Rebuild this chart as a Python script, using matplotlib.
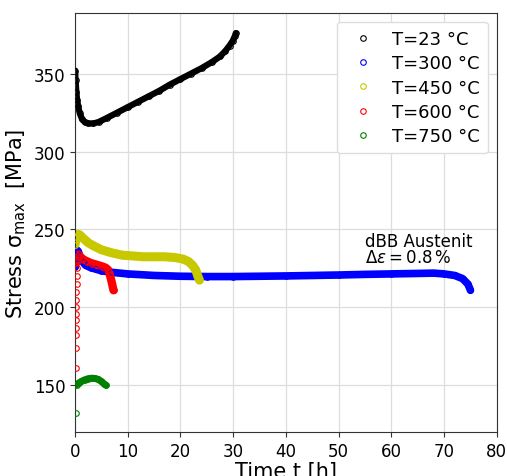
import matplotlib.pyplot as plt

# 23 °C
t23 = [0, 0.1, 0.25, 0.4, 0.6, 0.9, 1.3, 1.8, 2.5, 3.5, 4.5, 6, 8, 10, 12, 14,
       16, 18, 20, 22, 24, 26, 27.5, 28.5, 29.3, 29.9, 30.3, 30.5]
s23 = [352, 346, 338, 333, 329, 324.5, 321, 319, 318, 318, 319, 321.5, 325, 328.5,
       332, 335.5, 339, 343, 346.5, 350, 353.5, 357.5, 361, 364.5, 368, 371, 374, 376]

# 300 °C
t300 = [0, 0.1, 0.3, 0.6, 1, 1.5, 2, 3, 4, 5, 7, 10, 15, 20, 25, 30, 35, 40, 45,
        50, 55, 60, 65, 68, 70, 72, 73.5, 74.5, 75]
s300 = [226, 232, 237, 236, 232, 229, 227, 225.5, 224.5, 223.5, 222.5, 221.5, 220.5,
        220, 219.8, 219.8, 220, 220.2, 220.5, 220.8, 221.2, 221.5, 221.8, 222, 221.5,
        220.5, 218.5, 215, 211]

# 450 °C
t450 = [0, 0.2, 0.5, 0.9, 1.5, 2.5, 3.5, 5, 7, 9, 11, 13, 15, 17, 19, 20.5, 21.5,
        22.3, 22.9, 23.3, 23.6]
s450 = [240, 245, 247, 246.5, 244.5, 241.5, 239.5, 237, 235, 233.5, 233, 232.5,
        232.5, 232.5, 232, 231, 229.5, 227, 224, 220, 217.5]

# 600 °C (Anfahrpunkte + Verlauf)
t600_start = [0.1, 0.12, 0.14, 0.16, 0.18, 0.2, 0.22, 0.24, 0.27, 0.3, 0.33, 0.36]
s600_start = [161, 174, 182, 187, 192, 196, 200, 205, 210, 215, 220, 225]
t600 = [0.4, 0.5, 0.7, 1, 1.5, 2, 3, 4, 5, 5.8, 6.3, 6.6, 6.9, 7.1, 7.3]
s600 = [229, 233, 234, 232.5, 231, 230, 228.5, 227.5, 226.5, 225.5, 224, 221, 217,
        214, 211]

# 750 °C
t750_start = [0.1]
s750_start = [132]
t750 = [0, 0.3, 0.7, 1.2, 1.8, 2.5, 3.2, 3.8, 4.4, 5, 5.5, 5.9]
s750 = [150, 150.5, 151.5, 152.5, 153.5, 154.3, 154.6, 154.4, 153.8, 152.5, 151, 150]

labels = ['T=23 °C', 'T=300 °C', 'T=450 °C', 'T=600 °C', 'T=750 °C']
colors = ['black', 'blue', '#c8c800', 'red', 'green']

fig = plt.figure(figsize=(5.07, 4.77), dpi=100)
ax = fig.add_axes([0.148, 0.092, 0.832, 0.879])

series = [(t23, s23, 4.5), (t300, s300, 5.5), (t450, s450, 6.5), (t600, s600, 6), (t750, s750, 5)]
for (t, s, lw), c, lab in zip(series, colors, labels):
    ax.plot(t, s, '-', color=c, lw=lw, solid_capstyle='round', zorder=2)
    ax.plot(t, s, 'o', mfc='none', mec=c, ms=4, mew=0.8, label=lab, zorder=3)

# einzelne Punkte beim Anfahren
ax.plot(t600_start, s600_start, 'o', mfc='none', mec='red', ms=4, mew=0.8, zorder=3)
ax.plot(t750_start, s750_start, 'o', mfc='none', mec='green', ms=4, mew=0.8, zorder=3)

ax.text(55, 248.5, 'dBB Austenit\n$\\Delta\\varepsilon = 0.8\\,\\%$', fontsize=12,
        va='top', ha='left', linespacing=0.85)

ax.set_xlim(0, 80)
ax.set_ylim(120, 389)
ax.set_xticks(range(0, 81, 10))
ax.set_yticks(range(150, 351, 50))
ax.tick_params(labelsize=12, color='#333333')
ax.grid(True, color='#dddddd', lw=0.9)
ax.set_axisbelow(True)
for sp in ax.spines.values():
    sp.set_color('#333333')
ax.set_xlabel('Time t [h]', fontsize=15, labelpad=1)
ax.set_ylabel('Stress σ$_{\\mathrm{max}}$  [MPa]', fontsize=15, labelpad=4)

ax.legend(loc='upper right', fontsize=13, handletextpad=0.6, borderpad=0.45,
          labelspacing=0.35, framealpha=1, edgecolor='#dddddd')

plt.savefig('out.png', dpi=100)
